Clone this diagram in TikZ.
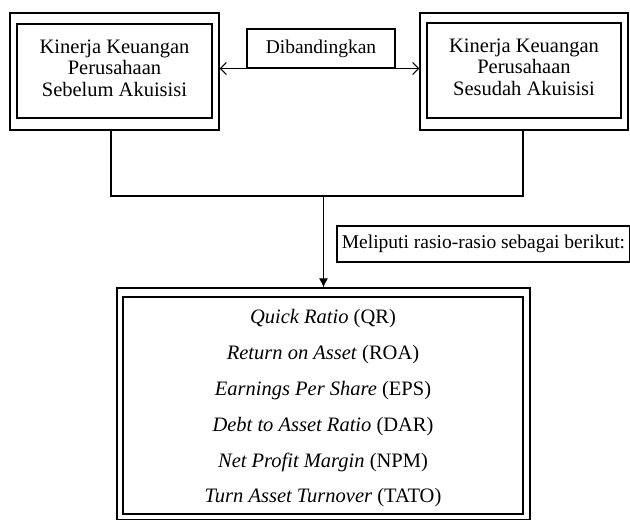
\documentclass[tikz,border=0pt]{standalone}
\usepackage{fontspec}
\setmainfont{Liberation Serif}
\usetikzlibrary{arrows.meta, positioning}
\tikzset{
  % Box styles
  outerbox/.style={rectangle, draw=black, line width=1.2pt, inner sep=0pt},
  innerbox/.style={rectangle, draw=black, line width=1.2pt},
  boxtext/.style={align=center, inner sep=0pt, font=\fontsize{20.5}{21.5}\selectfont},
  notebox/.style={rectangle, draw=black, line width=1.1pt, align=center, font=\fontsize{19.5}{22}\selectfont},
  % Arrow styles
  connector/.style={draw=black, line width=1.1pt},
  dblarrow/.style={{Straight Barb[length=6pt,width=12pt]}-{Straight Barb[length=6pt,width=12pt]}, line width=1.1pt},
  downarrow/.style={-{Latex[length=9pt,width=9pt]}, line width=1.1pt}
}

\begin{document}
\begin{tikzpicture}[x=1pt,y=-1pt]
  \useasboundingbox (0,0) rectangle (630,520);

  % Before acquisition
  \node[outerbox, minimum width=209pt, minimum height=117pt] (before) at (114.5,71.5) {};
  \node[innerbox, minimum width=195pt, minimum height=94pt] (beforein) at (114.5,71) {};
  \node[boxtext] (beforetext) at (114.5,68) {Kinerja Keuangan\\Perusahaan\\Sebelum Akuisisi};

  % After acquisition
  \node[outerbox, minimum width=208pt, minimum height=117pt] (after) at (524,71.5) {};
  \node[innerbox, minimum width=194pt, minimum height=95pt] (afterin) at (524,70.5) {};
  \node[boxtext] (aftertext) at (524,67) {Kinerja Keuangan\\Perusahaan\\Sesudah Akuisisi};

  % Comparison
  \node[notebox, minimum width=148pt, minimum height=39pt] (compare) at (321,48.5) {Dibandingkan};
  \draw[dblarrow] (before.east |- compare.south) -- (after.west |- compare.south);

  % Ratios
  \node[outerbox, minimum width=413pt, minimum height=232pt] (ratios) at (323.5,404) {};
  \node[innerbox, minimum width=400pt, minimum height=217pt] (ratiosin) at (323,405.5) {};
  \node[boxtext, font=\fontsize{20.5}{35.8}\selectfont] (ratiolist) at (323,408.5)
    {\textit{Quick Ratio} (QR)\\\textit{Return on Asset} (ROA)\\\textit{Earnings Per Share} (EPS)\\\textit{Debt to Asset Ratio} (DAR)\\\textit{Net Profit Margin} (NPM)\\\textit{Turn Asset Turnover} (TATO)};
  \node[notebox, minimum width=293pt, minimum height=36pt] (covers) at (483.5,244) {Meliputi rasio-rasio sebagai berikut:};

  % Connectors
  \coordinate (join) at (ratios.north |- 0,196);
  \draw[connector] ([xshift=-3.5pt]before.south) |- (join) -| ([xshift=-1pt]after.south);
  \draw[downarrow] (join) -- (ratios.north);
\end{tikzpicture}
\end{document}
